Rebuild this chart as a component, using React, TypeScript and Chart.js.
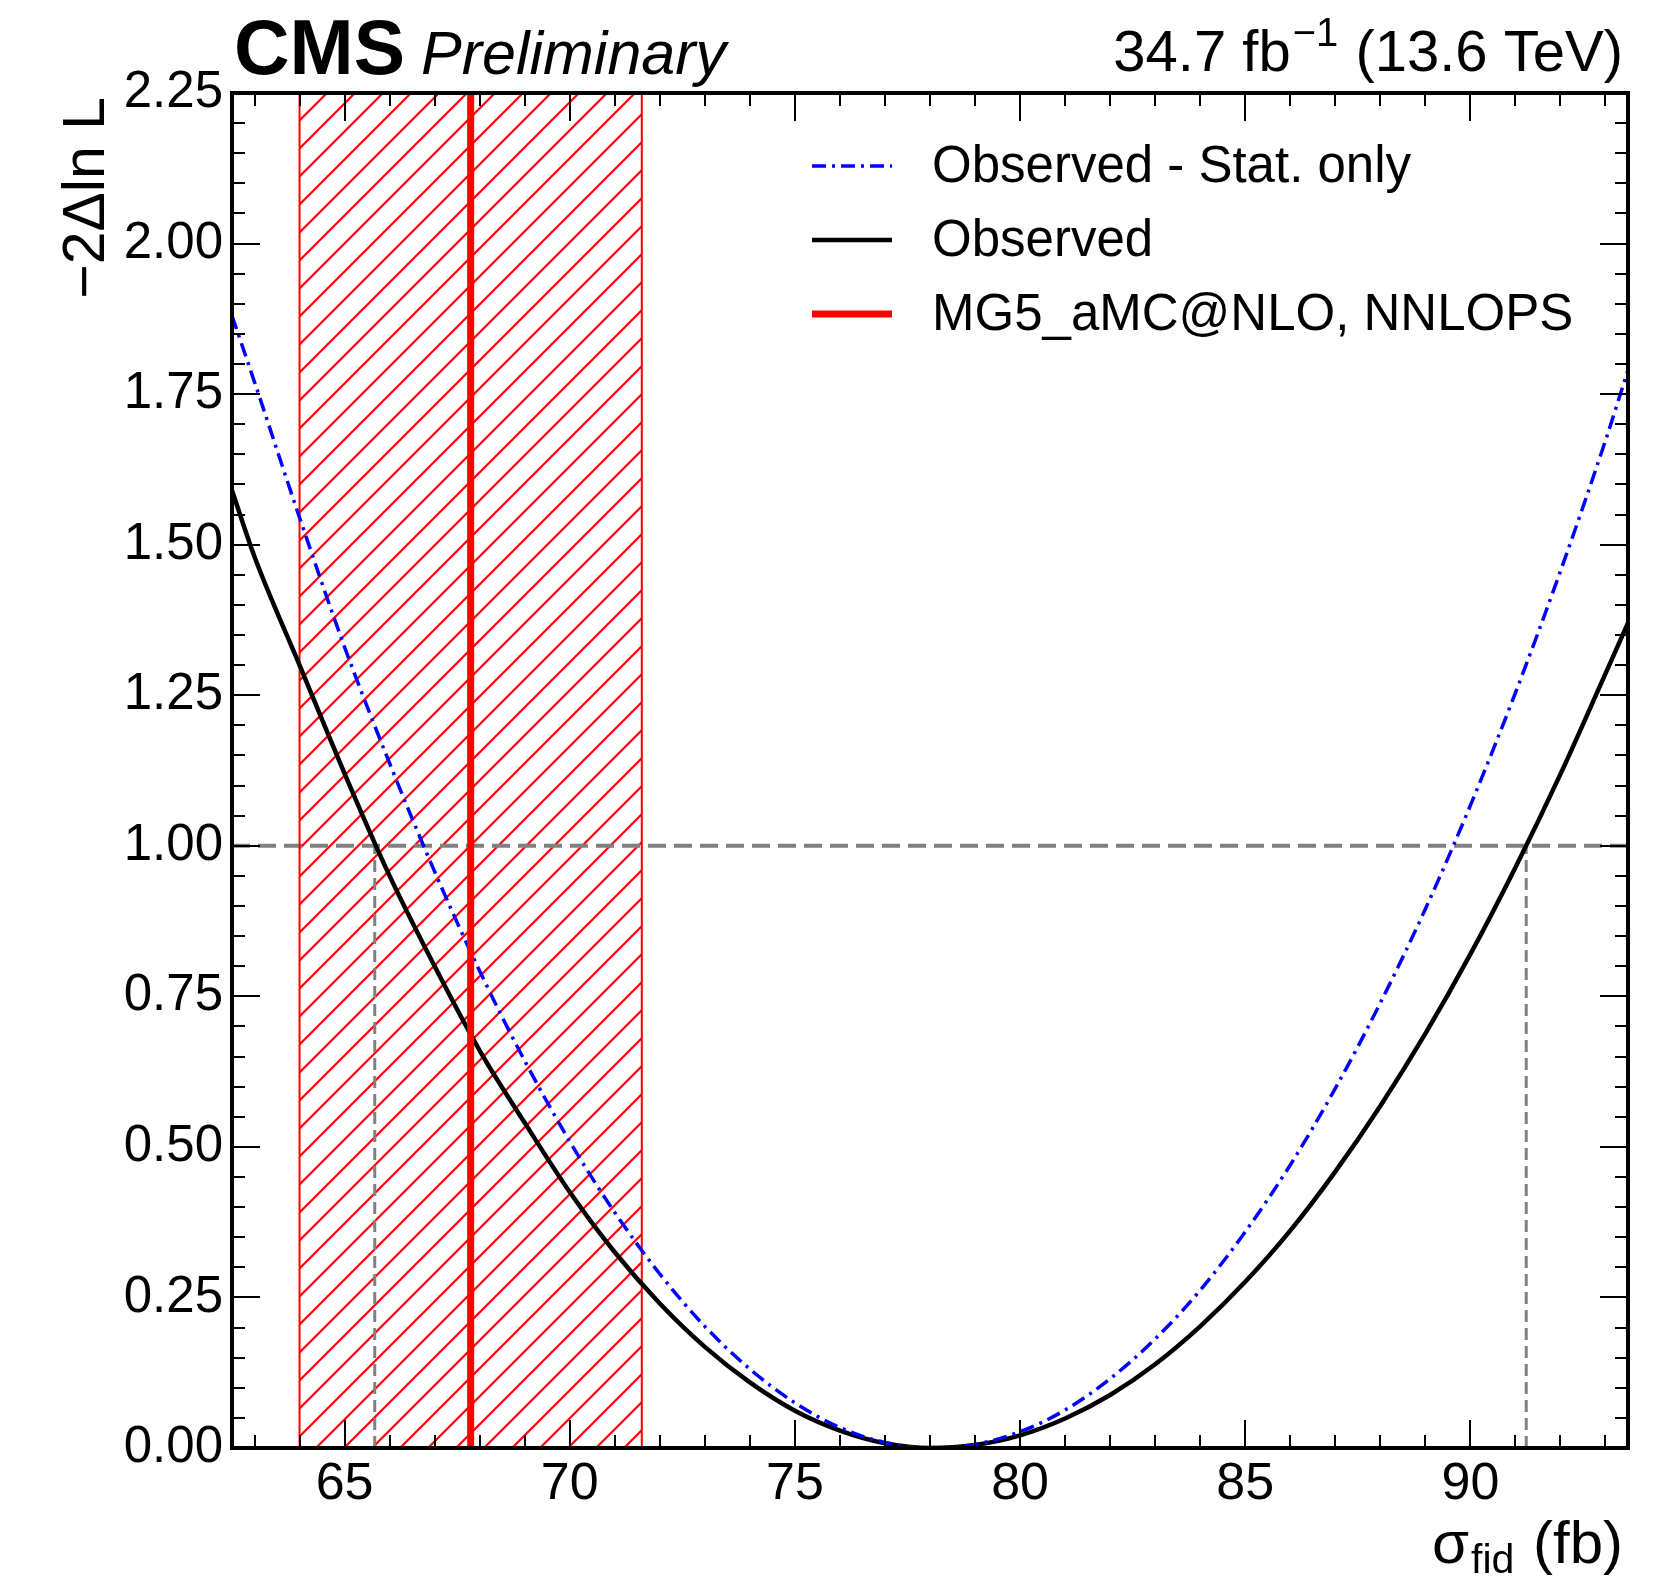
import React, { useEffect, useRef } from "react";
import { Chart, registerables } from "chart.js";

Chart.register(...registerables);

// ---------------- data ----------------
const sigmaGrid = [
  62.5, 63, 64, 65, 66, 67, 68, 69, 70, 71, 72, 73, 74, 75, 76, 77, 78,
  79, 80, 81, 82, 83, 84, 85, 86, 87, 88, 89, 90, 91, 92, 93, 93.5,
];
const observed = [
  1.59, 1.48, 1.3, 1.12, 0.95, 0.8, 0.66, 0.54, 0.425, 0.325, 0.24, 0.168,
  0.109, 0.062, 0.029, 0.008, 0.0, 0.005, 0.021, 0.049, 0.088, 0.139, 0.202,
  0.276, 0.361, 0.459, 0.568, 0.688, 0.82, 0.964, 1.119, 1.286, 1.37,
];
const observedStatOnly = [
  1.88, 1.77, 1.545, 1.33, 1.137, 0.957, 0.792, 0.643, 0.509, 0.391, 0.289,
  0.202, 0.131, 0.075, 0.034, 0.009, 0.0, 0.006, 0.027, 0.063, 0.115, 0.181,
  0.262, 0.359, 0.47, 0.597, 0.739, 0.895, 1.067, 1.254, 1.456, 1.673, 1.79,
];
const predictionCentral = 67.8;
const predictionBand = [64.0, 71.6];
const observedInterval = [65.67, 91.24];
const oneSigmaLevel = 1.0;

const xRange = [62.5, 93.5];
const yRange = [0, 2.25];
const xTickValues = [65, 70, 75, 80, 85, 90];
const yTickValues = [0, 0.25, 0.5, 0.75, 1.0, 1.25, 1.5, 1.75, 2.0, 2.25];
const xMinorStep = 1;
const yMinorStep = 0.05;

const legendLabels = ["Observed - Stat. only", "Observed", "MG5_aMC@NLO, NNLOPS"];
const headerLeft = "CMS";
const headerSub = "Preliminary";
const lumiText = "34.7 fb";
const lumiSup = "\u22121";
const energyText = " (13.6 TeV)";
const yTitle = "\u22122\u0394ln L";

// ---------------- style ----------------
const FONT = '"Liberation Sans", Arial, Helvetica, sans-serif';
const W = 1665;
const H = 1579;
const BLUE = "#0000ff";
const RED = "#ff0000";
const GRAY = "#808080";

function makeHatch(ctx: CanvasRenderingContext2D) {
  const s = 28;
  const pc = document.createElement("canvas");
  pc.width = s;
  pc.height = s;
  const g = pc.getContext("2d")!;
  g.strokeStyle = RED;
  g.lineWidth = 2.2;
  g.beginPath();
  g.moveTo(0, s);
  g.lineTo(s, 0);
  g.moveTo(-s / 2, s / 2);
  g.lineTo(s / 2, -s / 2);
  g.moveTo(s / 2, s * 1.5);
  g.lineTo(s * 1.5, s / 2);
  g.stroke();
  const p = ctx.createPattern(pc, "repeat")!;
  return p;
}

const decorPlugin = {
  id: "decor",
  afterDraw(chart: any) {
    const { ctx, chartArea } = chart;
    const xs = chart.scales.x;
    const ys = chart.scales.y;
    const { left, right, top, bottom } = chartArea;
    ctx.save();

    // ticks
    ctx.strokeStyle = "#000";
    ctx.lineWidth = 2;
    ctx.beginPath();
    for (let v = Math.ceil(xRange[0]); v <= xRange[1] + 1e-9; v += xMinorStep) {
      const px = Math.round(xs.getPixelForValue(v));
      const major = xTickValues.includes(v);
      const len = major ? 28 : 13;
      ctx.moveTo(px, bottom);
      ctx.lineTo(px, bottom - len);
      ctx.moveTo(px, top);
      ctx.lineTo(px, top + len);
    }
    const nY = Math.round((yRange[1] - yRange[0]) / yMinorStep);
    for (let i = 0; i <= nY; i++) {
      const v = yRange[0] + i * yMinorStep;
      const py = Math.round(ys.getPixelForValue(v));
      const major = i % 5 === 0;
      const len = major ? 28 : 13;
      ctx.moveTo(left, py);
      ctx.lineTo(left + len, py);
      ctx.moveTo(right, py);
      ctx.lineTo(right - len, py);
    }
    ctx.stroke();

    // frame
    ctx.lineWidth = 4;
    ctx.strokeRect(left, top, right - left, bottom - top);

    // header
    ctx.fillStyle = "#000";
    ctx.textBaseline = "alphabetic";
    ctx.textAlign = "left";
    ctx.font = `bold 77px ${FONT}`;
    ctx.fillText(headerLeft, 234, 74);
    ctx.font = `italic 61px ${FONT}`;
    ctx.fillText(headerSub, 421, 74);

    // lumi (right aligned)
    ctx.font = `58px ${FONT}`;
    const w1 = ctx.measureText(lumiText).width;
    const w3 = ctx.measureText(energyText).width;
    ctx.font = `40px ${FONT}`;
    const w2 = ctx.measureText(lumiSup).width + 3;
    const rx = 1623;
    const sx = rx - (w1 + w2 + w3);
    ctx.font = `58px ${FONT}`;
    ctx.fillText(lumiText, sx, 71);
    ctx.font = `40px ${FONT}`;
    ctx.fillText(lumiSup, sx + w1 + 2, 46);
    ctx.font = `58px ${FONT}`;
    ctx.fillText(energyText, sx + w1 + w2, 71);

    // y title
    ctx.save();
    ctx.translate(104, 97);
    ctx.rotate(-Math.PI / 2);
    ctx.textAlign = "right";
    ctx.font = `59px ${FONT}`;
    ctx.fillText(yTitle, 0, 0);
    ctx.restore();

    // x title
    ctx.font = `60px ${FONT}`;
    const ta = ctx.measureText("\u03c3").width;
    const tc = ctx.measureText(" (fb)").width;
    ctx.font = `41px ${FONT}`;
    const tb = ctx.measureText("fid").width + 4;
    const tx = 1623 - (ta + tb + tc);
    ctx.font = `60px ${FONT}`;
    ctx.fillText("\u03c3", tx, 1563);
    ctx.font = `41px ${FONT}`;
    ctx.fillText("fid", tx + ta + 2, 1573);
    ctx.font = `60px ${FONT}`;
    ctx.fillText(" (fb)", tx + ta + tb, 1563);

    // legend
    const rows = [166, 240, 314];
    const styles = [
      { c: BLUE, w: 3.5, d: [14, 6, 3, 6] },
      { c: "#000", w: 4.5, d: [] },
      { c: RED, w: 7, d: [] },
    ];
    ctx.font = `51px ${FONT}`;
    ctx.textBaseline = "middle";
    legendLabels.forEach((lab, i) => {
      const st = styles[i];
      ctx.strokeStyle = st.c;
      ctx.lineWidth = st.w;
      ctx.setLineDash(st.d);
      ctx.beginPath();
      ctx.moveTo(812, rows[i]);
      ctx.lineTo(892, rows[i]);
      ctx.stroke();
      ctx.setLineDash([]);
      ctx.fillStyle = "#000";
      ctx.fillText(lab, 932, rows[i] + 2);
    });

    ctx.restore();
  },
};

export default function App() {
  const ref = useRef<HTMLCanvasElement | null>(null);

  useEffect(() => {
    const canvas = ref.current!;
    const ctx = canvas.getContext("2d")!;
    const hatch = makeHatch(ctx);
    const pts = (ys: number[]) => sigmaGrid.map((x, i) => ({ x, y: ys[i] }));

    const chart = new Chart(ctx, {
      type: "line",
      data: {
        datasets: [
          {
            label: "band",
            data: [
              { x: predictionBand[0], y: yRange[1] },
              { x: predictionBand[1], y: yRange[1] },
            ],
            fill: "origin",
            backgroundColor: hatch as any,
            borderWidth: 0,
            borderColor: "rgba(0,0,0,0)",
            pointRadius: 0,
            order: 20,
          },
          {
            label: "oneSigma",
            data: [
              { x: xRange[0], y: oneSigmaLevel },
              { x: xRange[1], y: oneSigmaLevel },
            ],
            borderColor: GRAY,
            borderWidth: 4,
            borderDash: [18, 8],
            pointRadius: 0,
            fill: false,
            order: 15,
          },
          {
            label: "crossLow",
            data: [
              { x: observedInterval[0], y: 0 },
              { x: observedInterval[0], y: oneSigmaLevel },
            ],
            borderColor: GRAY,
            borderWidth: 3,
            borderDash: [12, 6],
            pointRadius: 0,
            fill: false,
            order: 15,
          },
          {
            label: "crossHigh",
            data: [
              { x: observedInterval[1], y: 0 },
              { x: observedInterval[1], y: oneSigmaLevel },
            ],
            borderColor: GRAY,
            borderWidth: 3,
            borderDash: [12, 6],
            pointRadius: 0,
            fill: false,
            order: 15,
          },
          {
            label: "bandLow",
            data: [
              { x: predictionBand[0], y: yRange[0] },
              { x: predictionBand[0], y: yRange[1] },
            ],
            borderColor: RED,
            borderWidth: 2,
            pointRadius: 0,
            fill: false,
            order: 12,
          },
          {
            label: "bandHigh",
            data: [
              { x: predictionBand[1], y: yRange[0] },
              { x: predictionBand[1], y: yRange[1] },
            ],
            borderColor: RED,
            borderWidth: 2,
            pointRadius: 0,
            fill: false,
            order: 12,
          },
          {
            label: legendLabels[1],
            data: pts(observed),
            borderColor: "#000",
            borderWidth: 4.5,
            pointRadius: 0,
            fill: false,
            cubicInterpolationMode: "monotone",
            order: 5,
          },
          {
            label: legendLabels[0],
            data: pts(observedStatOnly),
            borderColor: BLUE,
            borderWidth: 3.5,
            borderDash: [14, 6, 3, 6],
            pointRadius: 0,
            fill: false,
            cubicInterpolationMode: "monotone",
            order: 4,
          },
          {
            label: legendLabels[2],
            data: [
              { x: predictionCentral, y: yRange[0] },
              { x: predictionCentral, y: yRange[1] },
            ],
            borderColor: RED,
            borderWidth: 7,
            pointRadius: 0,
            fill: false,
            order: 1,
          },
        ],
      },
      options: {
        responsive: false,
        animation: false,
        devicePixelRatio: 1,
        events: [],
        layout: { padding: { left: 0, top: 93, right: 37, bottom: 0 } },
        plugins: {
          legend: { display: false },
          tooltip: { enabled: false },
          title: { display: false },
        },
        scales: {
          x: {
            type: "linear",
            min: xRange[0],
            max: xRange[1],
            afterBuildTicks: (s: any) => {
              s.ticks = xTickValues.map((v) => ({ value: v }));
            },
            afterFit: (s: any) => {
              s.height = H - 1448;
            },
            ticks: {
              color: "#000",
              font: { family: FONT, size: 52 },
              padding: 5,
              maxRotation: 0,
              autoSkip: false,
              callback: (v: any) => String(v),
            },
            grid: { display: false, drawTicks: false },
            border: { display: false },
          },
          y: {
            type: "linear",
            min: yRange[0],
            max: yRange[1],
            afterBuildTicks: (s: any) => {
              s.ticks = yTickValues.map((v) => ({ value: v }));
            },
            afterFit: (s: any) => {
              s.width = 232;
            },
            ticks: {
              color: "#000",
              font: { family: FONT, size: 51 },
              padding: 9,
              autoSkip: false,
              callback: (v: any) => Number(v).toFixed(2),
            },
            grid: { display: false, drawTicks: false },
            border: { display: false },
          },
        },
      } as any,
      plugins: [decorPlugin],
    });
    return () => chart.destroy();
  }, []);

  return (
    <div style={{ position: "fixed", left: 0, top: 0, width: W, height: H, background: "#fff" }}>
      <canvas ref={ref} width={W} height={H} style={{ width: W, height: H, display: "block" }} />
    </div>
  );
}
